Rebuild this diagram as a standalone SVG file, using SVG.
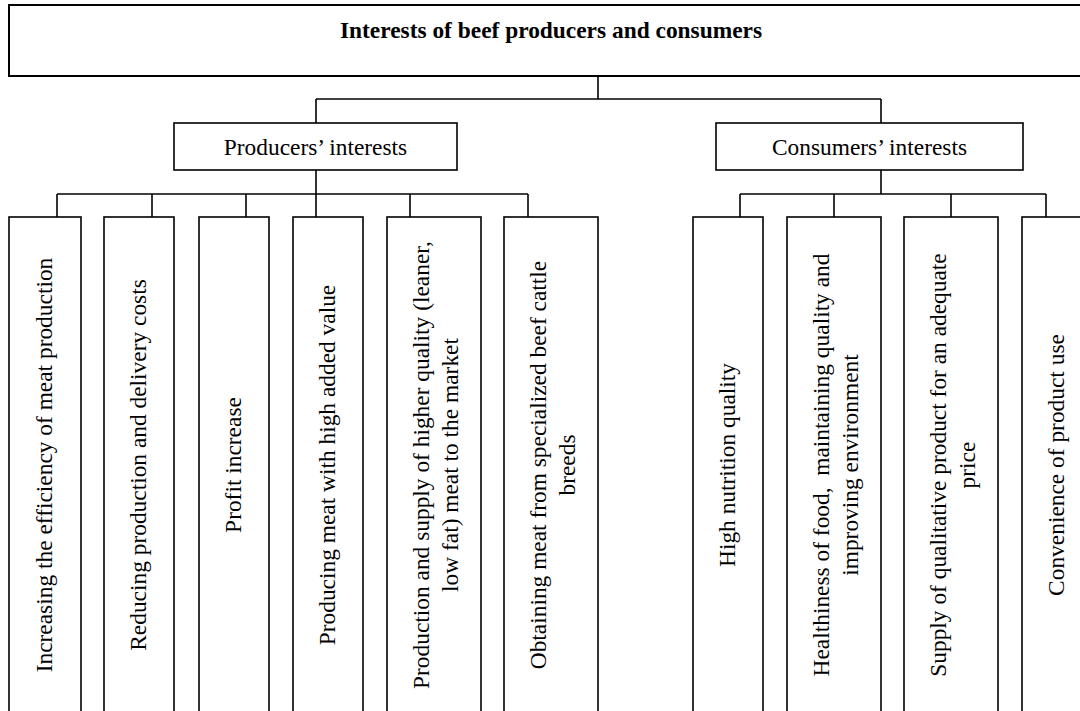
<svg xmlns="http://www.w3.org/2000/svg" width="1080" height="711" viewBox="0 0 1080 711">
<style>
  .box { fill: #fff; stroke: #000; stroke-width: 1.6; }
  .top { fill: #fff; stroke: #000; stroke-width: 2; }
  .ln { stroke: #000; stroke-width: 1.6; fill: none; }
  .t { font-family: "Liberation Serif", "Times New Roman", serif; font-size: 23.4px; fill: #000; text-anchor: middle; }
  .b { font-weight: bold; }
</style>
<rect x="0" y="0" width="1080" height="711" fill="#fff"/>
<g id="connectors">
  <line class="ln" x1="598" y1="76" x2="598" y2="99"/>
  <line class="ln" x1="316" y1="99" x2="881" y2="99"/>
  <line class="ln" x1="316" y1="99" x2="316" y2="123"/>
  <line class="ln" x1="881" y1="99" x2="881" y2="123"/>
  <line class="ln" x1="316" y1="170" x2="316" y2="194"/>
  <line class="ln" x1="57" y1="194" x2="528" y2="194"/>
  <line class="ln" x1="57" y1="194" x2="57" y2="217"/>
  <line class="ln" x1="152" y1="194" x2="152" y2="217"/>
  <line class="ln" x1="246" y1="194" x2="246" y2="217"/>
  <line class="ln" x1="316" y1="194" x2="316" y2="217"/>
  <line class="ln" x1="410" y1="194" x2="410" y2="217"/>
  <line class="ln" x1="528" y1="194" x2="528" y2="217"/>
  <line class="ln" x1="881" y1="170" x2="881" y2="194"/>
  <line class="ln" x1="740" y1="194" x2="1046" y2="194"/>
  <line class="ln" x1="740" y1="194" x2="740" y2="217"/>
  <line class="ln" x1="834" y1="194" x2="834" y2="217"/>
  <line class="ln" x1="951" y1="194" x2="951" y2="217"/>
  <line class="ln" x1="1046" y1="194" x2="1046" y2="217"/>
</g>
<g id="root">
  <rect class="top" x="9" y="5" width="1084" height="71"/>
  <text class="t b" x="551" y="38">Interests of beef producers and consumers</text>
</g>
<g id="producers">
  <rect class="box" x="174" y="123" width="283" height="47"/>
  <text class="t" x="315.5" y="155">Producers’ interests</text>
</g>
<g id="consumers">
  <rect class="box" x="716" y="123" width="307" height="47"/>
  <text class="t" x="869.5" y="155">Consumers’ interests</text>
</g>
<g id="p1">
  <rect class="box" x="9" y="217" width="72" height="510"/>
  <text class="t" transform="translate(45,465) rotate(-90)" y="7">Increasing the efficiency of meat production</text>
</g>
<g id="p2">
  <rect class="box" x="104" y="217" width="70" height="510"/>
  <text class="t" transform="translate(139,465) rotate(-90)" y="7">Reducing production and delivery costs</text>
</g>
<g id="p3">
  <rect class="box" x="199" y="217" width="70" height="510"/>
  <text class="t" transform="translate(234,465) rotate(-90)" y="7">Profit increase</text>
</g>
<g id="p4">
  <rect class="box" x="293" y="217" width="70" height="510"/>
  <text class="t" transform="translate(328,465) rotate(-90)" y="7">Producing meat with high added value</text>
</g>
<g id="p5">
  <rect class="box" x="387" y="217" width="94" height="510"/>
  <text class="t" transform="translate(434,465) rotate(-90)"><tspan x="0" y="-5">Production and supply of higher quality (leaner,</tspan><tspan x="0" y="24">low fat) meat to the market</tspan></text>
</g>
<g id="p6">
  <rect class="box" x="504" y="217" width="94" height="510"/>
  <text class="t" transform="translate(551,465) rotate(-90)"><tspan x="0" y="-5">Obtaining meat from specialized beef cattle</tspan><tspan x="0" y="24">breeds</tspan></text>
</g>
<g id="c1">
  <rect class="box" x="693" y="217" width="70" height="510"/>
  <text class="t" transform="translate(728,465) rotate(-90)" y="7">High nutrition quality</text>
</g>
<g id="c2">
  <rect class="box" x="787" y="217" width="94" height="510"/>
  <text class="t" transform="translate(834,465) rotate(-90)" xml:space="preserve"><tspan x="0" y="-5">Healthiness of food,  maintaining quality and</tspan><tspan x="0" y="24">improving environment</tspan></text>
</g>
<g id="c3">
  <rect class="box" x="904" y="217" width="94" height="510"/>
  <text class="t" transform="translate(951,465) rotate(-90)"><tspan x="0" y="-5">Supply of qualitative product for an adequate</tspan><tspan x="0" y="24">price</tspan></text>
</g>
<g id="c4">
  <rect class="box" x="1022" y="217" width="70" height="510"/>
  <text class="t" transform="translate(1057,465) rotate(-90)" y="7">Convenience of product use</text>
</g>
</svg>
